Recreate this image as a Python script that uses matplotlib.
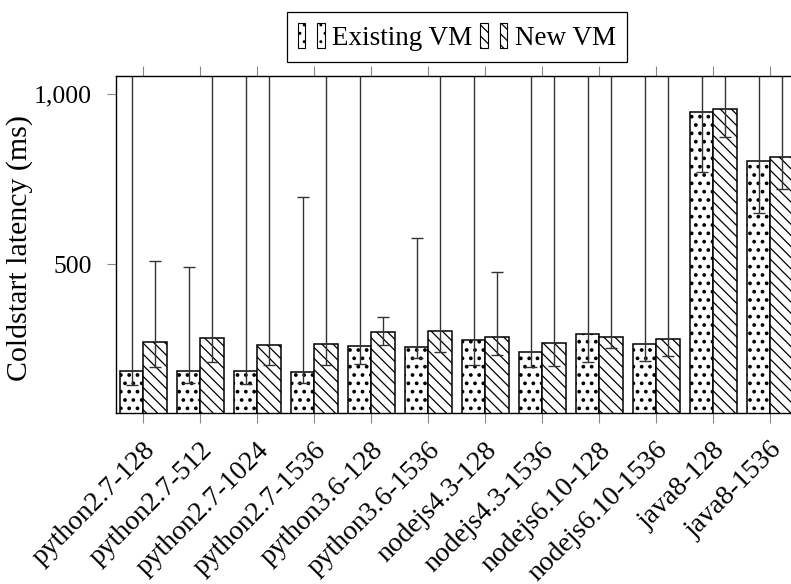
import numpy as np
import matplotlib
matplotlib.use('Agg')
import matplotlib.pyplot as plt
import matplotlib.transforms as mtransforms
from matplotlib.patches import Rectangle
from matplotlib.legend_handler import HandlerTuple

# runtime configurations on the x axis
runtimes = ['python2.7-128', 'python2.7-512', 'python2.7-1024', 'python2.7-1536',
            'python3.6-128', 'python3.6-1536', 'nodejs4.3-128', 'nodejs4.3-1536',
            'nodejs6.10-128', 'nodejs6.10-1536', 'java8-128', 'java8-1536']

# coldstart latency (ms), mean and low/high whiskers
existing_mean = [186, 186, 185, 183, 258, 255, 275, 242, 293, 263, 947, 805]
existing_low = [144, 148, 146, 150, 204, 223, 201, 197, 211, 215, 771, 651]
existing_high = [1500, 491, 1500, 697, 1500, 577, 1500, 1500, 1500, 1500, 1500, 1500]

new_mean = [269, 281, 261, 264, 301, 302, 284, 266, 284, 278, 958, 815]
new_low = [196, 211, 202, 201, 261, 241, 231, 200, 253, 230, 873, 720]
new_high = [509, 1500, 1500, 1500, 343, 1500, 476, 1500, 1500, 1500, 1500, 1500]

plt.rcParams['font.family'] = ['Liberation Serif', 'DejaVu Serif']
plt.rcParams['hatch.linewidth'] = 0.9

fig = plt.figure(figsize=(7.91, 5.84), dpi=100)
# axes runs a little past the right edge of the canvas, like the original
ax = fig.add_axes([116 / 791, 1 - 413 / 584, (797.6 - 116) / 791, (413 - 75.7) / 584])

x = np.arange(len(runtimes))
width = 0.41
ex = np.array(existing_mean)
nw = np.array(new_mean)

with plt.rc_context({'hatch.linewidth': 1.5}):
    ax.bar(x - width / 2, ex, width, facecolor='white', edgecolor='black',
           hatch='..', linewidth=1.1)
ax.bar(x + width / 2, nw, width, facecolor='white', edgecolor='black',
       hatch='\\\\\\', linewidth=1.1)

ax.errorbar(x - width / 2, ex, yerr=[ex - np.array(existing_low), np.array(existing_high) - ex],
            fmt='none', ecolor='#333333', elinewidth=1.0, capsize=4, capthick=1.0)
ax.errorbar(x + width / 2, nw, yerr=[nw - np.array(new_low), np.array(new_high) - nw],
            fmt='none', ecolor='#333333', elinewidth=1.0, capsize=4, capthick=1.0)

ax.set_xlim(-0.479, len(runtimes) - 1 + 0.479)
ax.set_ylim(61, 1055)
ax.set_yticks([500, 1000])
ax.set_yticklabels(['500', '1,000'])
ax.set_xticks(x)
ax.set_xticklabels(runtimes, rotation=45, ha='right', va='center', rotation_mode='anchor')

ax.tick_params(axis='x', top=True, bottom=True, direction='out', length=7.5,
               width=0.8, color='#888888', labelsize=20, pad=16.5)
ax.tick_params(axis='y', left=True, right=False, direction='out', length=6.5,
               width=0.8, color='#888888', labelsize=18.5, pad=10.8)

offset = mtransforms.ScaledTranslation(0.08, 0, fig.dpi_scale_trans)
for lbl in ax.get_xticklabels():
    lbl.set_transform(lbl.get_transform() + offset)

for sp in ax.spines.values():
    sp.set_linewidth(1.0)
    sp.set_color('black')

ax.set_ylabel('Coldstart latency (ms)', fontsize=21.5)
ax.yaxis.set_label_coords((33 - 116) / 681.6, 0.49)

with plt.rc_context({'hatch.linewidth': 1.5}):
    p_ex = Rectangle((0, 0), 1, 1, facecolor='white', edgecolor='black', hatch='..', linewidth=0.8)
p_nw = Rectangle((0, 0), 1, 1, facecolor='white', edgecolor='black', hatch='\\\\\\', linewidth=0.8)
leg = ax.legend([(p_ex, p_ex), (p_nw, p_nw)], ['Existing VM', 'New VM'],
                handler_map={tuple: HandlerTuple(ndivide=None, pad=0.44)},
                ncol=2, loc='lower center', bbox_to_anchor=(0.5, 1 + 14 / 337.3),
                borderaxespad=0, frameon=True, fancybox=False, edgecolor='black',
                framealpha=1, handlelength=1.0, handleheight=1.07, handletextpad=0.28,
                columnspacing=0.27, borderpad=0.4, fontsize=19.5)
leg.get_frame().set_linewidth(0.9)

fig.savefig('out.png', dpi=100)
